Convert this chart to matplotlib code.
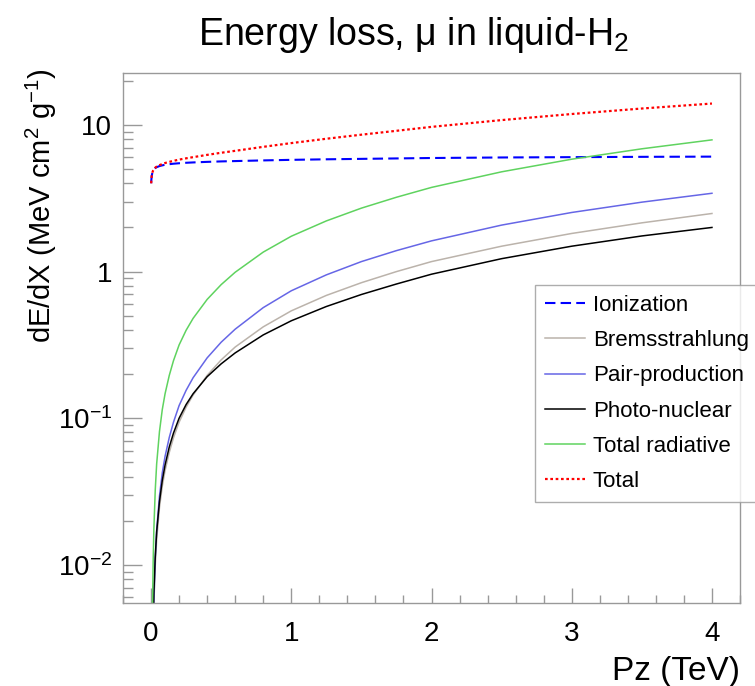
import matplotlib
matplotlib.use("Agg")
import matplotlib.pyplot as plt
from matplotlib.ticker import FixedLocator, FixedFormatter, MultipleLocator, LogLocator, NullFormatter

# ---- data ----
pz = [0.001, 0.002, 0.005, 0.01, 0.015, 0.02, 0.03, 0.04, 0.06, 0.08, 0.1, 0.13, 0.16,
      0.2, 0.25, 0.3, 0.4, 0.5, 0.6, 0.8, 1.0, 1.25, 1.5, 1.75, 2.0, 2.5, 3.0, 3.5, 4.0]
ionization = [4.0, 4.2, 4.5, 4.75, 4.88, 4.97, 5.08, 5.15, 5.24, 5.30, 5.35, 5.40, 5.44,
              5.48, 5.52, 5.55, 5.60, 5.64, 5.67, 5.73, 5.78, 5.83, 5.87, 5.91, 5.95, 6.0, 6.03, 6.06, 6.08]
bremsstrahlung = [1e-6, 1e-5, 0.0002, 0.0015, 0.0032, 0.0054, 0.0099, 0.0148, 0.0246, 0.0344, 0.044,
                  0.0585, 0.0736, 0.094, 0.119, 0.144, 0.196, 0.25, 0.306, 0.42, 0.54, 0.688, 0.84,
                  1.00, 1.17, 1.49, 1.82, 2.15, 2.49]
pair_production = [1e-6, 1e-5, 0.00025, 0.0015, 0.0033, 0.0056, 0.0111, 0.0172, 0.0294, 0.0424, 0.055,
                   0.074, 0.094, 0.122, 0.155, 0.189, 0.258, 0.33, 0.405, 0.568, 0.74, 0.95, 1.17,
                   1.39, 1.62, 2.075, 2.53, 2.975, 3.42]
photo_nuclear = [1e-6, 1e-5, 0.0004, 0.002, 0.004, 0.0064, 0.0114, 0.0168, 0.027, 0.0376, 0.048,
                 0.0637, 0.0792, 0.100, 0.124, 0.147, 0.192, 0.235, 0.279, 0.37, 0.462, 0.578, 0.698,
                 0.823, 0.96, 1.225, 1.49, 1.75, 2.0]
total_radiative = [3e-6, 3e-5, 0.00085, 0.005, 0.0105, 0.0174, 0.0324, 0.0488, 0.081, 0.1144, 0.147,
                   0.196, 0.247, 0.316, 0.398, 0.48, 0.646, 0.815, 0.99, 1.358, 1.742, 2.216, 2.708,
                   3.213, 3.75, 4.79, 5.84, 6.875, 7.91]
total = [4.0, 4.2, 4.50, 4.755, 4.89, 4.99, 5.11, 5.20, 5.32, 5.41, 5.50, 5.60, 5.69, 5.80, 5.92,
         6.03, 6.25, 6.46, 6.66, 7.09, 7.52, 8.05, 8.58, 9.12, 9.70, 10.79, 11.87, 12.94, 13.99]

x_ticks = [0, 1, 2, 3, 4]
x_tick_labels = ["0", "1", "2", "3", "4"]
y_ticks = [0.01, 0.1, 1, 10]
y_tick_labels = ["$10^{-2}$", "$10^{-1}$", "1", "10"]

plt.rcParams['font.family'] = ['Liberation Sans', 'DejaVu Sans']
plt.rcParams['mathtext.fontset'] = 'custom'
plt.rcParams['mathtext.rm'] = 'Liberation Sans'
plt.rcParams['mathtext.it'] = 'Liberation Sans'
plt.rcParams['mathtext.sf'] = 'Liberation Sans'

W, H = 755, 686
fig = plt.figure(figsize=(W / 100, H / 100), dpi=100)
ax = fig.add_axes([123 / W, 1 - 603 / H, (740 - 123) / W, (603 - 73) / H])

frame = '#999999'
ax.plot(pz, ionization, color='#0000ff', lw=1.5, ls=(0, (5, 2.5)), label='Ionization')
ax.plot(pz, bremsstrahlung, color='#bbb3ab', lw=1.1, label='Bremsstrahlung')
ax.plot(pz, pair_production, color='#6666e6', lw=1.1, label='Pair-production')
ax.plot(pz, photo_nuclear, color='#000000', lw=1.1, label='Photo-nuclear')
ax.plot(pz, total_radiative, color='#5fd35f', lw=1.1, label='Total radiative')
ax.plot(pz, total, color='#ff0000', lw=1.6, ls=(0, (1.2, 1.2)), label='Total')

ax.set_yscale('log')
ax.set_xlim(-0.2, 4.2)
ax.set_ylim(0.0055, 22.6)

ax.xaxis.set_major_locator(FixedLocator(x_ticks))
ax.xaxis.set_major_formatter(FixedFormatter(x_tick_labels))
ax.xaxis.set_minor_locator(MultipleLocator(0.2))
ax.yaxis.set_major_locator(FixedLocator(y_ticks))
ax.yaxis.set_major_formatter(FixedFormatter(y_tick_labels))
ax.yaxis.set_minor_locator(LogLocator(base=10, subs=range(2, 10)))
ax.yaxis.set_minor_formatter(NullFormatter())

for s in ax.spines.values():
    s.set_color(frame)
    s.set_linewidth(1.0)

ax.tick_params(axis='x', which='major', direction='in', length=10.8, width=1, color=frame,
               labelsize=20, pad=13)
ax.tick_params(axis='x', which='minor', direction='in', length=5.5, width=1, color=frame)
ax.tick_params(axis='y', which='major', direction='in', length=13.7, width=1, color=frame,
               labelsize=20, pad=8)
ax.tick_params(axis='y', which='minor', direction='in', length=7, width=1, color=frame)

fig.text(740 / W, 1 - 680 / H, 'Pz (TeV)', ha='right', va='baseline', fontsize=24)
fig.text(41 / W, 1 - 68 / H, 'dE/dX (MeV cm$^{2}$ g$^{-1}$)', rotation=90, ha='center', va='top',
         fontsize=21)
fig.text(414 / W, 1 - 45 / H, 'Energy loss, \u03bc in liquid-H$_{2}$', ha='center', va='baseline',
         fontsize=27)

leg = fig.legend(loc='upper left', bbox_to_anchor=(535 / W, 1 - 285 / H), fontsize=16,
                 frameon=True, fancybox=False, edgecolor=frame, handlelength=1.8,
                 handletextpad=0.35, labelspacing=0.64, borderpad=0.45, borderaxespad=0)
leg.get_frame().set_linewidth(1.0)

fig.savefig('out.png', dpi=100)
